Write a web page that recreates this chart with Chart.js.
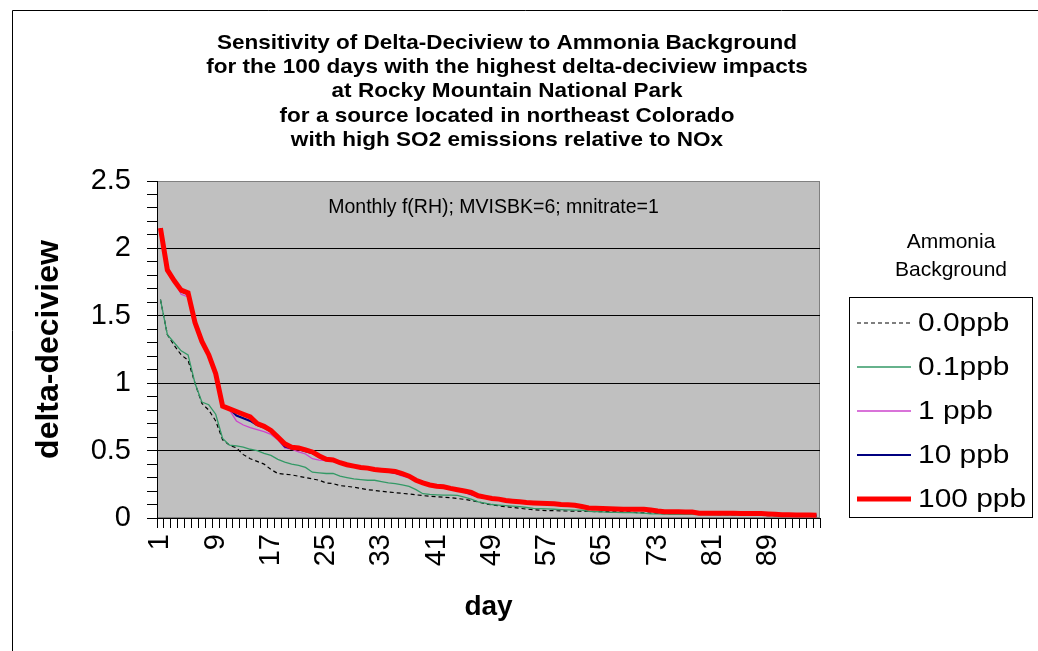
<!DOCTYPE html>
<html>
<head>
<meta charset="utf-8">
<script src="https://cdn.jsdelivr.net/npm/chart.js@4.4.0/dist/chart.umd.min.js"></script>
<style>
  html, body { margin: 0; padding: 0; background: #fff; }
</style>
</head>
<body>
<canvas id="chart" width="1038" height="651"></canvas>
<script>
const titleLines = [
  "Sensitivity of Delta-Deciview to Ammonia Background",
  "for the 100 days with the highest delta-deciview impacts",
  "at Rocky Mountain National Park",
  "for a source located in northeast Colorado",
  "with high SO2 emissions relative to NOx"
];
const note = "Monthly f(RH); MVISBK=6; mnitrate=1";
const legendTitle = ["Ammonia", "Background"];
const seriesNames = ["0.0ppb", "0.1ppb", "1 ppb", "10 ppb", "100 ppb"];
const yTickLabels = ["0", "0.5", "1", "1.5", "2", "2.5"];

// delta-deciview par jour
const nh3_0 = [
  1.62, 1.36, 1.28, 1.21, 1.17, 1.00, 0.85, 0.80, 0.72, 0.58,
  0.54, 0.52, 0.47, 0.44, 0.42, 0.40, 0.36, 0.33, 0.325, 0.32,
  0.31, 0.30, 0.29, 0.28, 0.26, 0.255, 0.24, 0.235, 0.228,
  0.22, 0.21, 0.205, 0.198, 0.193, 0.188, 0.183, 0.178, 0.172, 0.166,
  0.162, 0.158, 0.154, 0.15, 0.145, 0.138, 0.13, 0.12, 0.105, 0.098,
  0.09, 0.084, 0.078, 0.072, 0.066, 0.062, 0.058, 0.055, 0.054, 0.053,
  0.052, 0.051, 0.05, 0.049, 0.048, 0.047, 0.046, 0.046, 0.045, 0.045,
  0.04, 0.038, 0.036, 0.034, 0.032, 0.03, 0.03, 0.03, 0.029,
  0.028, 0.027, 0.026, 0.025, 0.024, 0.023, 0.022, 0.021, 0.02, 0.019,
  0.018, 0.017, 0.016, 0.015, 0.014, 0.013, 0.013, 0.012
];
const nh3_01 = [
  1.62, 1.36, 1.30, 1.24, 1.21, 1.00, 0.86, 0.84, 0.77, 0.59,
  0.54, 0.535, 0.525, 0.51, 0.50, 0.48, 0.465, 0.435, 0.415, 0.40,
  0.39, 0.375, 0.34, 0.335, 0.33, 0.33, 0.31, 0.30, 0.29,
  0.285, 0.28, 0.28, 0.27, 0.26, 0.255, 0.245, 0.235, 0.21, 0.18,
  0.175, 0.172, 0.17, 0.17, 0.168, 0.155, 0.14, 0.12, 0.11, 0.10,
  0.096, 0.092, 0.088, 0.084, 0.078, 0.072, 0.07, 0.068, 0.065, 0.062,
  0.06, 0.059, 0.058, 0.05, 0.047, 0.045, 0.042, 0.041, 0.04, 0.04,
  0.038, 0.036, 0.03, 0.03, 0.029, 0.028, 0.028, 0.028, 0.027,
  0.025, 0.025, 0.024, 0.024, 0.023, 0.023, 0.022, 0.022, 0.021, 0.021,
  0.019, 0.018, 0.017, 0.017, 0.016, 0.016, 0.015, 0.015
];
const nh3_1 = [
  2.15, 1.84, 1.76, 1.66, 1.64, 1.45, 1.31, 1.21, 1.07, 0.83,
  0.80, 0.72, 0.69, 0.67, 0.655, 0.64, 0.62, 0.58, 0.52, 0.51,
  0.49, 0.475, 0.44, 0.43, 0.425, 0.42, 0.40, 0.39, 0.38,
  0.37, 0.365, 0.355, 0.35, 0.34, 0.33, 0.31, 0.30, 0.275, 0.255,
  0.24, 0.232, 0.228, 0.215, 0.205, 0.19, 0.17, 0.155, 0.15, 0.142,
  0.138, 0.128, 0.122, 0.118, 0.113, 0.11, 0.108, 0.106, 0.103, 0.098,
  0.096, 0.093, 0.083, 0.073, 0.071, 0.069, 0.067, 0.065, 0.064, 0.064,
  0.063, 0.062, 0.058, 0.05, 0.046, 0.045, 0.045, 0.044, 0.043,
  0.035, 0.034, 0.034, 0.034, 0.034, 0.034, 0.033, 0.033, 0.033, 0.033,
  0.029, 0.026, 0.024, 0.023, 0.022, 0.021, 0.021, 0.02
];
const nh3_10 = [
  2.15, 1.84, 1.76, 1.68, 1.66, 1.45, 1.31, 1.21, 1.07, 0.83,
  0.81, 0.76, 0.74, 0.72, 0.69, 0.67, 0.64, 0.59, 0.53, 0.515,
  0.51, 0.495, 0.48, 0.455, 0.43, 0.425, 0.405, 0.39, 0.38,
  0.37, 0.365, 0.355, 0.35, 0.345, 0.335, 0.32, 0.305, 0.278, 0.258,
  0.243, 0.233, 0.23, 0.218, 0.208, 0.195, 0.178, 0.16, 0.152, 0.144,
  0.139, 0.129, 0.124, 0.119, 0.114, 0.111, 0.109, 0.107, 0.104, 0.099,
  0.097, 0.094, 0.084, 0.073, 0.071, 0.069, 0.067, 0.065, 0.064, 0.064,
  0.063, 0.063, 0.059, 0.051, 0.046, 0.045, 0.045, 0.044, 0.043,
  0.035, 0.034, 0.034, 0.034, 0.034, 0.034, 0.033, 0.033, 0.033, 0.033,
  0.029, 0.026, 0.024, 0.023, 0.022, 0.021, 0.021, 0.02
];
const nh3_100 = [
  2.15, 1.84, 1.76, 1.69, 1.67, 1.45, 1.31, 1.21, 1.07, 0.83,
  0.81, 0.79, 0.77, 0.75, 0.70, 0.68, 0.65, 0.60, 0.55, 0.525,
  0.52, 0.505, 0.49, 0.46, 0.435, 0.43, 0.41, 0.395, 0.385,
  0.375, 0.37, 0.36, 0.355, 0.35, 0.345, 0.33, 0.31, 0.28, 0.26,
  0.245, 0.235, 0.232, 0.22, 0.21, 0.2, 0.19, 0.165, 0.155, 0.145,
  0.14, 0.13, 0.125, 0.12, 0.115, 0.112, 0.11, 0.108, 0.105, 0.1,
  0.098, 0.095, 0.085, 0.074, 0.072, 0.07, 0.068, 0.066, 0.065, 0.065,
  0.064, 0.064, 0.06, 0.052, 0.047, 0.046, 0.046, 0.045, 0.044,
  0.036, 0.035, 0.035, 0.035, 0.035, 0.035, 0.034, 0.034, 0.034, 0.034,
  0.03, 0.027, 0.025, 0.024, 0.023, 0.022, 0.022, 0.021
];
const days = nh3_100.map((v, i) => String(i + 1));

const FONT = "'Liberation Sans', Arial, sans-serif";
Chart.defaults.font.family = FONT;
Chart.defaults.color = "#000";

// texte étiré horizontalement (le rendu d'origine est plus large)
function wideText(ctx, text, x, y, sx, align) {
  ctx.save();
  ctx.translate(x, y);
  ctx.scale(sx, 1);
  ctx.textAlign = align;
  ctx.fillText(text, 0, 0);
  ctx.restore();
}

const decor = {
  id: "decor",
  beforeDraw(chart) {
    const { ctx, chartArea: a } = chart;
    ctx.save();
    ctx.fillStyle = "#fff";
    ctx.fillRect(0, 0, chart.width, chart.height);
    // cadre du graphique
    ctx.strokeStyle = "#000";
    ctx.lineWidth = 1;
    ctx.beginPath();
    ctx.moveTo(12.5, chart.height);
    ctx.lineTo(12.5, 10.5);
    ctx.lineTo(chart.width, 10.5);
    ctx.stroke();
    // zone de tracé
    ctx.fillStyle = "#c0c0c0";
    ctx.fillRect(a.left, a.top, a.right - a.left, a.bottom - a.top);
    ctx.strokeStyle = "#808080";
    ctx.strokeRect(a.left + 0.5, a.top + 0.5, a.right - a.left - 1, a.bottom - a.top - 1);
    ctx.restore();
  },
  afterDraw(chart) {
    const { ctx, chartArea: a } = chart;
    ctx.save();
    ctx.fillStyle = "#000";
    ctx.textBaseline = "middle";

    // titre
    ctx.font = "bold 20.5px " + FONT;
    titleLines.forEach((t, i) => wideText(ctx, t, 507, 43 + i * 24.3, 1.1, "center"));

    // note dans la zone de tracé
    ctx.font = "19.5px " + FONT;
    wideText(ctx, note, (a.left + a.right) / 2 + 5, 208, 1.0, "center");

    // légende
    ctx.font = "21px " + FONT;
    legendTitle.forEach((t, i) => wideText(ctx, t, 951, 242 + i * 28, 1.0, "center"));
    ctx.strokeStyle = "#000";
    ctx.lineWidth = 1;
    ctx.strokeRect(849.5, 297.5, 183, 220);
    ctx.font = "26px " + FONT;
    chart.data.datasets.forEach((ds, i) => {
      const y = 323 + i * 44;
      ctx.save();
      ctx.strokeStyle = ds.borderColor;
      ctx.lineWidth = ds.borderWidth;
      ctx.setLineDash(ds.borderDash || []);
      ctx.beginPath();
      ctx.moveTo(857, y);
      ctx.lineTo(911, y);
      ctx.stroke();
      ctx.restore();
      wideText(ctx, ds.label, 918, y + 1, 1.15, "left");
    });
    ctx.restore();
  }
};

function isHalf(v) {
  const h = v * 2;
  return Math.abs(h - Math.round(h)) < 1e-6;
}

new Chart(document.getElementById("chart"), {
  type: "line",
  data: {
    labels: days,
    datasets: [
      { label: seriesNames[0], data: nh3_0, borderColor: "#000000", borderWidth: 1.2, borderDash: [4, 3], order: 4 },
      { label: seriesNames[1], data: nh3_01, borderColor: "#339966", borderWidth: 1.3, order: 3 },
      { label: seriesNames[2], data: nh3_1, borderColor: "#cc44cc", borderWidth: 1.3, order: 2 },
      { label: seriesNames[3], data: nh3_10, borderColor: "#000080", borderWidth: 2, order: 1 },
      { label: seriesNames[4], data: nh3_100, borderColor: "#ff0000", borderWidth: 5, order: 0 }
    ]
  },
  options: {
    responsive: false,
    animation: false,
    layout: { padding: { left: 0, top: 181, right: 218, bottom: 0 } },
    elements: {
      point: { radius: 0 },
      line: { tension: 0, fill: false }
    },
    plugins: {
      legend: { display: false },
      title: { display: false },
      tooltip: { enabled: false }
    },
    scales: {
      x: {
        offset: true,
        grid: { offset: true, drawOnChartArea: false, color: "#000", tickLength: 10 },
        border: { color: "#000", width: 1 },
        ticks: {
          autoSkip: false,
          minRotation: 90,
          maxRotation: 90,
          padding: 6,
          font: { size: 29 },
          color: "#000",
          callback: (v, i) => (i % 8 === 0 ? days[i] : "")
        },
        title: {
          display: true,
          text: "day",
          font: { size: 28, weight: "bold" },
          color: "#000",
          padding: { bottom: 27 }
        },
        afterFit: (s) => { s.height = 133; }
      },
      y: {
        min: 0,
        max: 2.5,
        grid: {
          color: (c) => {
            const v = c.tick ? c.tick.value : 0;
            return isHalf(v) && v > 0.01 && v < 2.49 ? "#000" : "rgba(0,0,0,0)";
          },
          tickColor: "#000",
          tickLength: 10
        },
        border: { color: "#000", width: 1 },
        ticks: {
          stepSize: 0.1,
          autoSkip: false,
          padding: 16,
          font: { size: 29 },
          color: "#000",
          callback: (v) => (isHalf(v) ? yTickLabels[Math.round(v * 2)] : "")
        },
        title: {
          display: true,
          text: "delta-deciview",
          font: { size: 32, weight: "bold" },
          color: "#000",
          padding: { top: 30 }
        },
        afterFit: (s) => { s.width = 157; }
      }
    }
  },
  plugins: [decor]
});
</script>
</body>
</html>
